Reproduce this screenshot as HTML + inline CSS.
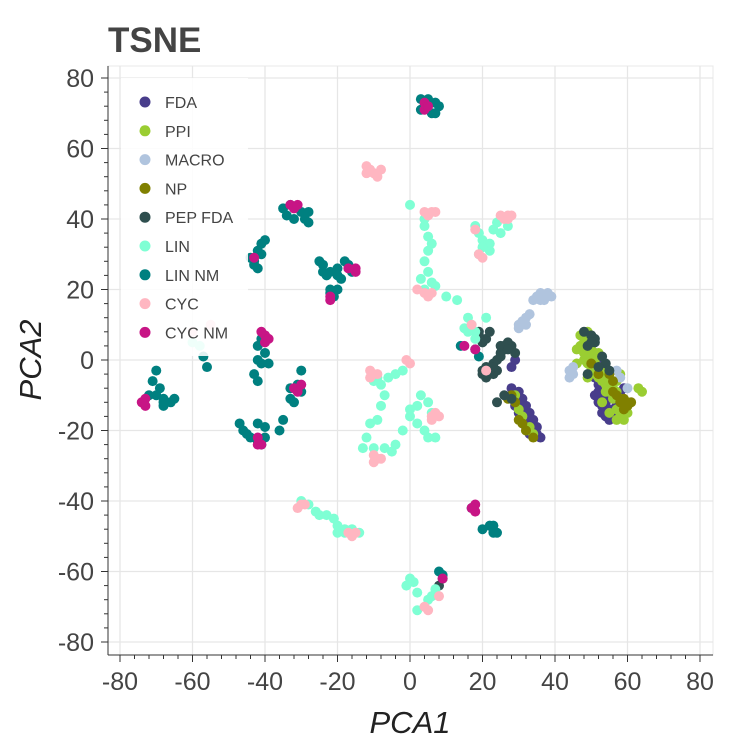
<!DOCTYPE html>
<html><head><meta charset="utf-8"><style>
body{margin:0;background:#fff;}
svg{display:block;font-family:"Liberation Sans",sans-serif;}
</style></head><body>
<svg id="chart" width="750" height="750">
<text x="108" y="52" font-size="35" font-weight="bold" fill="#444">TSNE</text>
</svg>
<script>
const xTicks=[-80,-60,-40,-20,0,20,40,60,80];
const yTicks=[-80,-60,-40,-20,0,20,40,60,80];
const seriesNames=["FDA","PPI","MACRO","NP","PEP FDA","LIN","LIN NM","CYC","CYC NM"];
const seriesColors=["#483d8b","#9acd32","#b0c4de","#808000","#2f4f4f","#7fffd4","#008080","#ffb6c1","#c71585"];
const fdaPts=[[28,-8],[29,-10],[30,-12],[31,-14],[32,-16],[33,-18],[34,-20],[35,-21],[36,-22],[30,-15],[32,-19],[29,-13],[31,-17],[33,-21],[28,-2],[29,0],[31,-11],[32,-13],[33,-15],[34,-17],[35,-19],[30,-9],[50,-3],[51,-5],[52,-7],[53,-10],[54,-12],[55,-14],[56,-16],[57,-13],[58,-10],[59,-8],[53,-15],[55,-17],[51,2],[52,0],[56,-11],[54,-16],[52,-12],[53,-13],[51,-10],[52,-9],[54,-10],[56,-14],[57,-16],[58,-13]];
const ppiPts=[[47,7],[48,5],[49,3],[48,0],[50,1],[50,-2],[51,-4],[52,-5],[53,-3],[49,-5],[54,-7],[55,-9],[56,-11],[57,-14],[58,-16],[59,-17],[60,-12],[63,-8],[64,-9],[58,-4],[57,-6],[46,-1],[47,4],[52,2],[50,6],[53,-12],[55,-15],[30,-14],[32,-20],[29,-10],[33,-19],[49,8],[51,-1],[48,2],[49,-1],[50,3],[51,0],[52,-2],[53,-6],[54,-4],[55,-6],[56,-8],[57,-9],[58,-11],[59,-12],[60,-15],[57,-17],[54,-9],[49,6],[46,3],[31,-16],[34,-21]];
const macroPts=[[35,18],[36,19],[37,18],[38,19],[39,18],[36,17],[34,17],[37,17],[32,12],[31,11],[30,10],[30,9],[33,13],[32,10],[44,-3],[45,-4],[44,-5],[45,-2],[57,-3],[58,-5],[60,-8]];
const npPts=[[28,-10],[29,-12],[30,-17],[31,-18],[32,-20],[34,-22],[27,-11],[55,-4],[56,-6],[57,-10],[58,-12],[60,-13],[61,-12],[59,-14],[50,-1],[52,-4],[56,-9],[59,-11]];
const pepPts=[[20,5],[21,6],[19,8],[22,8],[24,0],[25,2],[26,3],[22,-4],[20,-3],[21,-5],[23,-4],[24,-3],[26,4],[28,4],[25,4],[27,5],[28,-11],[24,-12],[26,-10],[19,7],[29,2],[23,-1],[21,-2],[22,-3],[23,-2],[25,1],[27,3],[20,-4],[48,8],[50,7],[51,6],[49,4],[51,5],[53,1],[54,-1],[55,-3],[49,-4],[52,-2],[50,5],[9,-62],[8,-64]];
const linPts=[[0,44],[4,40],[4,38],[5,35],[6,33],[5,31],[4,28],[6,22],[4,20],[3,23],[5,25],[7,21],[10,18],[13,17],[16,12],[18,8],[17,10],[18,6],[18,38],[19,36],[20,34],[22,33],[23,37],[24,39],[25,36],[22,31],[20,32],[27,38],[19,30],[-9,-5],[-10,-6],[-8,-7],[-6,-5],[-4,-4],[-2,-3],[-7,-10],[-8,-13],[-9,-17],[-11,-18],[-12,-22],[-13,-25],[-10,-25],[-7,-25],[-4,-24],[-5,-26],[-2,-20],[0,-16],[2,-18],[0,-14],[2,-13],[3,-10],[5,-12],[6,-15],[4,-20],[7,-22],[5,-22],[-30,-40],[-28,-41],[-26,-43],[-25,-44],[-23,-44],[-21,-45],[-20,-47],[-18,-48],[-16,-48],[-14,-49],[-20,-49],[-18,-49],[0,-62],[1,-63],[-1,-64],[2,-66],[5,-68],[6,-67],[7,-65],[2,-71],[21,12],[15,9],[16,8],[-58,4],[-60,5]];
const linNmPts=[[3,74],[4,73],[5,74],[7,73],[8,72],[3,71],[6,70],[4,72],[7,70],[-35,43],[-34,41],[-33,44],[-32,40],[-30,42],[-28,42],[-29,40],[-28,39],[-40,34],[-41,33],[-42,31],[-41,30],[-43,28],[-43,27],[-42,26],[-44,29],[-25,28],[-24,27],[-24,25],[-22,25],[-20,26],[-20,24],[-18,28],[-17,27],[-16,25],[-19,23],[-23,24],[-22,19],[-21,18],[-22,20],[-20,20],[-57,1],[-56,-2],[-70,-3],[-71,-6],[-69,-8],[-70,-10],[-68,-11],[-66,-12],[-68,-12],[-72,-10],[-65,-11],[-68,-13],[-41,6],[-42,4],[-40,2],[-42,0],[-39,-1],[-41,-1],[-43,-4],[-42,-6],[-30,-3],[-33,-8],[-31,-7],[-30,-9],[-33,-11],[-32,-12],[-47,-18],[-46,-20],[-45,-21],[-44,-22],[-42,-23],[-41,-24],[-40,-22],[-42,-18],[-40,-19],[-36,-20],[-35,-17],[17,-42],[20,-48],[22,-47],[23,-49],[24,-49],[23,-47],[8,-60],[9,-61],[14,4],[18,3],[19,1]];
const cycPts=[[-12,55],[-11,54],[-10,53],[-12,53],[-9,52],[-8,54],[4,42],[5,41],[6,42],[7,42],[18,37],[25,41],[26,40],[27,41],[28,41],[27,40],[20,29],[19,30],[2,20],[4,19],[5,18],[6,19],[-1,0],[0,-1],[-11,-3],[-10,-4],[-9,-4],[-11,-5],[6,-16],[7,-15],[8,-16],[6,-17],[-10,-27],[-9,-28],[-10,-29],[-8,-28],[-30,-41],[-31,-42],[-29,-41],[-17,-49],[-16,-50],[-15,-49],[4,-70],[5,-71],[8,-67],[17,10],[21,-3],[-60,8],[-55,10]];
const cycNmPts=[[4,73],[4,71],[5,72],[-33,44],[-32,43],[-31,44],[-43,29],[-15,25],[-15,26],[-17,26],[-22,17],[-22,18],[-40,7],[-40,5],[-39,6],[-41,8],[-32,-8],[-31,-9],[-30,-7],[-73,-11],[-74,-12],[-73,-13],[-42,-24],[-41,-24],[-42,-22],[18,-41],[18,-43],[17,-42],[9,-62],[15,4],[18,3]];
const allSeries=[fdaPts,ppiPts,macroPts,npPts,pepPts,linPts,linNmPts,cycPts,cycNmPts];

const NS="http://www.w3.org/2000/svg";
const svg=document.getElementById("chart");
const L=108,R=713,T=66,B=655;
const xs=v=>410+v*3.625;
const ys=v=>360-v*3.525;
function mk(t,a,parent){const e=document.createElementNS(NS,t);for(const k in a)e.setAttribute(k,a[k]);(parent||svg).appendChild(e);return e;}

const frame=mk("rect",{x:L,y:T,width:R-L,height:B-T,fill:"none",stroke:"#e8e8e8"});


xTicks.forEach(t=>{
  const g=mk("line",{x1:xs(t),x2:xs(t),y1:T,y2:B,stroke:"#e6e6e6","stroke-width":1.3});
  
  
  mk("line",{x1:xs(t),x2:xs(t),y1:B,y2:B+7,stroke:"#333"});
  const lb=mk("text",{x:xs(t),y:B+35,"text-anchor":"middle","font-size":25,fill:"#444"});
  lb.textContent=t;
  
  
});
yTicks.forEach(t=>{
  const g=mk("line",{x1:L,x2:R,y1:ys(t),y2:ys(t),stroke:"#e6e6e6","stroke-width":1.3});
  
  
  mk("line",{x1:L-7,x2:L,y1:ys(t),y2:ys(t),stroke:"#333"});
  const lb=mk("text",{x:L-14,y:ys(t)+9,"text-anchor":"end","font-size":25,fill:"#444"});
  lb.textContent=t;
  
  
});
for(let v=-84;v<=84;v+=4){
  if(v%20===0)continue;
  if(xs(v)>=L&&xs(v)<=R)mk("line",{x1:xs(v),x2:xs(v),y1:B,y2:B+4,stroke:"#333"});
  if(ys(v)>=T&&ys(v)<=B)mk("line",{x1:L-4,x2:L,y1:ys(v),y2:ys(v),stroke:"#333"});
}
mk("line",{x1:L,x2:L,y1:T,y2:B,stroke:"#333"});
mk("line",{x1:L,x2:R,y1:B,y2:B,stroke:"#333"});

allSeries.forEach((pts,i)=>{
  const g=mk("g",{fill:seriesColors[i]});
  
  
  pts.forEach(p=>{
    const c=mk("circle",{cx:xs(p[0]),cy:ys(p[1]),r:5},g);
    
    
  });
});

const lg=mk("g",{});


mk("rect",{x:121,y:78,width:127,height:278,fill:"#fff","fill-opacity":0.88},lg);
seriesNames.forEach((n,i)=>{
  const y=102+i*28.8;
  const e=mk("g",{},lg);
  
  
  mk("circle",{cx:145,cy:y,r:5.5,fill:seriesColors[i]},e);
  const t=mk("text",{x:165,y:y+6,"font-size":16,fill:"#444"},e);
  t.textContent=n;
});

const xt=mk("text",{x:410,y:733,"text-anchor":"middle","font-size":31,"font-style":"italic",fill:"#222"});
xt.textContent="PCA1";


const yt=mk("text",{x:0,y:0,"text-anchor":"middle","font-size":31,"font-style":"italic",fill:"#222",transform:"translate(41,360) rotate(-90)"});
yt.textContent="PCA2";


</script>
</body></html>
